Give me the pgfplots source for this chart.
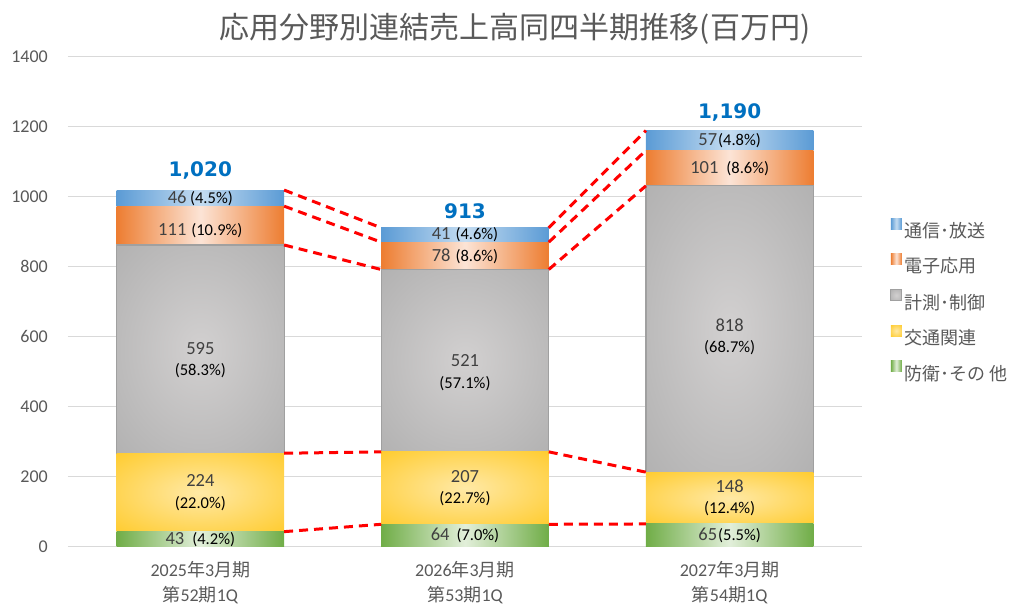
\documentclass[border=0pt]{standalone}
\usepackage{pgfplots}
\usepackage{pgfplotstable}
\pgfplotsset{compat=1.18}
\usepackage{fontspec}
\setmainfont{Carlito}
\newfontfamily\jp{Noto Sans CJK JP}
\newfontfamily\dv{DejaVu Sans}

\definecolor{bDark}{HTML}{5B9BD5}\definecolor{bLight}{HTML}{C4DCF1}
\definecolor{oDark}{HTML}{ED7D31}\definecolor{oLight}{HTML}{FCE4D6}
\definecolor{gDark}{HTML}{A5A5A5}\definecolor{gLight}{HTML}{D2D0D0}
\definecolor{yDark}{HTML}{FFC000}\definecolor{yLight}{HTML}{FFE9A6}
\definecolor{grDark}{HTML}{70AD47}\definecolor{grLight}{HTML}{E2EFDA}
\definecolor{txt}{HTML}{595959}
\definecolor{num}{HTML}{404040}
\definecolor{tot}{HTML}{0070C0}
\definecolor{gridc}{HTML}{D9D9D9}
\definecolor{gEdge}{HTML}{A0A0A0}

\pgfdeclareradialshading{grayrad}{\pgfpoint{0bp}{0bp}}{color(0bp)=(gLight); color(50bp)=(gDark)}
\pgfdeclareradialshading{yelrad}{\pgfpoint{0bp}{0bp}}{color(0bp)=(yLight); color(50bp)=(yDark)}

\pgfplotstableread{
x def tra meas elec comm
0 43 224 595 111 46
1 64 207 521 78 41
2 65 148 818 101 57
}\sales

\pgfplotstableread{
x b1 b2 b3 b4 b5
0.3165 43 267 862 973 1019
0.6835 64 271 792 870 911
}\linesA
\pgfplotstableread{
x b1 b2 b3 b4 b5
1.3165 64 271 792 870 911
1.6835 65 213 1031 1132 1189
}\linesB

\newcommand\nf{\fontsize{18.5}{21}\selectfont\color{num}}
\newcommand\pf{\fontsize{16.5}{21}\selectfont\color{black}}
\newcommand\lab[3]{{\nf #1}\hspace{#3}{\pf #2}}

\pgfplotsset{
  sq legend/.style={legend image code/.code={\fill[##1] (0pt,1.5pt) rectangle (11pt,12.5pt);}},
  base/.style={at={(0pt,0pt)}, anchor=south west, scale only axis, width=794pt, height=490pt,
    xmin=-0.5, xmax=2.5, ymin=0, ymax=1400},
  hid/.style={base, hide axis},
}
\tikzset{two/.style={align=center, font=\fontsize{18}{21.5}\selectfont}}

\newcommand\catbars[2]{%
\addplot[draw=none, left color=grDark, right color=grDark, middle color=grLight, sq legend, restrict x to domain=#1:#2] table[x=x,y=def]{\sales};
\addplot[draw=none, shade, shading=yelrad, sq legend, restrict x to domain=#1:#2] table[x=x,y=tra]{\sales};
\addplot[draw=gEdge, line width=1.2pt, shade, shading=grayrad, sq legend, restrict x to domain=#1:#2] table[x=x,y=meas]{\sales};
\addplot[draw=none, left color=oDark, right color=oDark, middle color=oLight, sq legend, restrict x to domain=#1:#2] table[x=x,y=elec]{\sales};
\addplot[draw=none, left color=bDark, right color=bDark, middle color=bLight, sq legend, restrict x to domain=#1:#2] table[x=x,y=comm]{\sales};
}

\begin{document}
\begin{tikzpicture}
\path[use as bounding box] (-68pt,-66.3pt) rectangle (948pt,546.7pt);
% axis 1: frame, grid, legend, first category
\begin{axis}[
  base,
  ybar stacked, bar width=0.633,
  ytick={0,200,...,1400},
  xtick={0,1,2},
  xticklabels={{2025{\jp 年}3{\jp 月期}\\{\jp 第}52{\jp 期}1Q},{2026{\jp 年}3{\jp 月期}\\{\jp 第}53{\jp 期}1Q},{2027{\jp 年}3{\jp 月期}\\{\jp 第}54{\jp 期}1Q}},
  ymajorgrids, grid style={gridc, line width=1.5pt},
  axis line style={draw=none}, tick style={draw=none},
  /pgf/number format/assume math mode=true,
  /pgf/number format/1000 sep={},
  yticklabel style={font=\fontsize{18}{20}\selectfont, text=txt, anchor=east, inner sep=0pt, xshift=-20pt},
  xticklabel style={font=\fontsize{18}{25}\selectfont, text=txt, align=center, anchor=north, inner sep=0pt, yshift=-14pt},
  legend style={at={(1.0353,0.671)}, anchor=north west, draw=none, fill=none, inner sep=0pt,
    font=\jp\fontsize{18}{20}\selectfont, text=txt, row sep=12.7pt},
  legend cell align=left,
  reverse legend,
]
\catbars{-0.5}{0.5}
\addlegendentry{防衛･その 他}
\addlegendentry{交通関連}
\addlegendentry{計測･制御}
\addlegendentry{電子応用}
\addlegendentry{通信･放送}
\end{axis}
% axis 2 and 3: other categories
\begin{axis}[hid, ybar stacked, bar width=0.633]
\catbars{0.5}{1.5}
\end{axis}
\begin{axis}[hid, ybar stacked, bar width=0.633]
\catbars{1.5}{2.5}
\end{axis}
% axis 4: connector lines and labels
\begin{axis}[hid]
\pgfplotsinvokeforeach{b1,b2,b3,b4,b5}{
  \addplot[red, line width=3pt, dash pattern=on 9pt off 6pt, mark=none] table[x=x,y=#1]{\linesA};
  \addplot[red, line width=3pt, dash pattern=on 9pt off 6pt, mark=none] table[x=x,y=#1]{\linesB};
}

\node at (axis cs:0,996) {\lab{46}{(4.5\%)}{3.5pt}};
\node at (axis cs:0,917.5) [yshift=-5pt] {\lab{111}{(10.9\%)}{5pt}};
\node[two] at (axis cs:0,564.5) [yshift=-11pt] {{\nf 595}\\{\pf (58.3\%)}};
\node[two] at (axis cs:0,155) {{\nf 224}\\{\pf (22.0\%)}};
\node at (axis cs:0,21.5) {\lab{43}{(4.2\%)}{8pt}};

\node at (axis cs:1,890.5) {\lab{41}{(4.6\%)}{5pt}};
\node at (axis cs:1,831) {\lab{78}{(8.6\%)}{5pt}};
\node[two] at (axis cs:1,531.5) [yshift=-12pt] {{\nf 521}\\{\pf (57.1\%)}};
\node[two] at (axis cs:1,167.5) {{\nf 207}\\{\pf (22.7\%)}};
\node at (axis cs:1,32) {\lab{64}{(7.0\%)}{7pt}};

\node at (axis cs:2,1160.5) {\lab{57}{(4.8\%)}{1pt}};
\node at (axis cs:2,1081.5) {\lab{101}{(8.6\%)}{8pt}};
\node[two] at (axis cs:2,622) [yshift=-8pt] {{\nf 818}\\{\pf (68.7\%)}};
\node[two] at (axis cs:2,139) {{\nf 148}\\{\pf (12.4\%)}};
\node at (axis cs:2,32.5) {\lab{65}{(5.5\%)}{1pt}};

\node[font=\dv\bfseries\fontsize{20}{22}\selectfont, text=tot, yshift=20pt] at (axis cs:0,1019) {1,020};
\node[font=\dv\bfseries\fontsize{20}{22}\selectfont, text=tot, yshift=17pt] at (axis cs:1,911) {913};
\node[font=\dv\bfseries\fontsize{20}{22}\selectfont, text=tot, yshift=18pt] at (axis cs:2,1189) {1,190};
\end{axis}
\node[font=\jp\fontsize{30}{32}\selectfont, text=txt] at (447pt,517.7pt) {応用分野別連結売上高同四半期推移(百万円)};
\end{tikzpicture}
\end{document}
